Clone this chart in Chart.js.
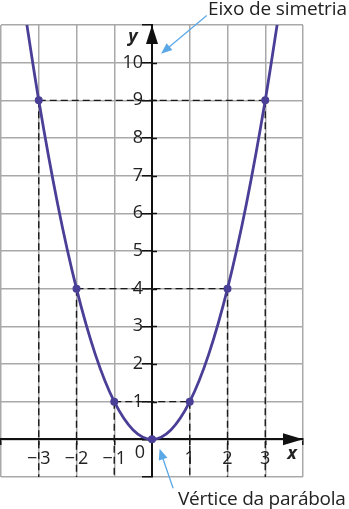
<!DOCTYPE html>
<html>
<head>
<meta charset="utf-8">
<script src="https://cdn.jsdelivr.net/npm/chart.js@4.4.1/dist/chart.umd.min.js"></script>
<style>
  html, body { margin: 0; padding: 0; background: #fff; overflow: hidden; }
  #wrap { width: 352px; height: 509px; position: absolute; left: -3px; top: 0; }
</style>
</head>
<body>
<div id="wrap"><canvas id="grafico"></canvas></div>
<script>
// parabola y = x^2
const curveX = [-3.4, -3, -2.5, -2, -1.5, -1, -0.5, 0, 0.5, 1, 1.5, 2, 2.5, 3, 3.4];
const curveY = [11.56, 9, 6.25, 4, 2.25, 1, 0.25, 0, 0.25, 1, 2.25, 4, 6.25, 9, 11.56];

// marked points
const markX = [-3, -2, -1, 0, 1, 2, 3];
const markY = [9, 4, 1, 0, 1, 4, 9];

// tick labels
const xTickValues = [-3, -2, -1, 1, 2, 3];
const xTickLabels = ['\u2212\u20093', '\u2212\u20092', '\u2212\u20091', '1', '2', '3'];
const yTickValues = [1, 2, 3, 4, 5, 6, 7, 8, 9, 10];
const yTickLabels = ['1', '2', '3', '4', '5', '6', '7', '8', '9', '10'];

const PURPLE = '#4a3f96';
const BLUE = '#5ba8e6';
const FONT = '"Open Sans", "Noto Sans", sans-serif';

// dashed guides from each marked point to the axes
const guides = [];
markX.forEach((mx, i) => {
    const my = markY[i];
    if (mx === 0) return;
    guides.push([{ x: mx, y: my }, { x: mx, y: -1 }]);
    if (mx > 0) guides.push([{ x: -mx, y: my }, { x: mx, y: my }]);
});

const guideSets = guides.map(g => ({
    type: 'line',
    data: g,
    borderColor: '#1a1a1a',
    borderWidth: 1.4,
    borderDash: [7, 4],
    pointRadius: 0,
    order: 3
}));

function arrow(ctx, x1, y1, x2, y2, len, half) {
    const a = Math.atan2(y2 - y1, x2 - x1);
    ctx.beginPath();
    ctx.moveTo(x1, y1);
    ctx.lineTo(x2 - Math.cos(a) * len * 0.6, y2 - Math.sin(a) * len * 0.6);
    ctx.stroke();
    ctx.beginPath();
    ctx.moveTo(x2, y2);
    ctx.lineTo(x2 - Math.cos(a) * len + Math.sin(a) * half, y2 - Math.sin(a) * len - Math.cos(a) * half);
    ctx.lineTo(x2 - Math.cos(a) * len - Math.sin(a) * half, y2 - Math.sin(a) * len + Math.cos(a) * half);
    ctx.closePath();
    ctx.fill();
}

// text squeezed or spread to a given width
function fitText(ctx, txt, xRight, y, width) {
    ctx.letterSpacing = '0px';
    const w = ctx.measureText(txt).width;
    ctx.letterSpacing = ((width - w) / (txt.length - 1)).toFixed(2) + 'px';
    ctx.textAlign = 'left';
    ctx.fillText(txt, xRight - width, y);
    ctx.letterSpacing = '0px';
}

const extras = {
    id: 'extras',
    afterDraw(chart) {
        const { ctx, chartArea } = chart;
        const sx = chart.scales.x, sy = chart.scales.y;
        const x0 = sx.getPixelForValue(0);
        const y0 = sy.getPixelForValue(0);
        ctx.save();

        // short tick stubs on the other side of the y axis
        ctx.strokeStyle = '#111';
        ctx.lineWidth = 1.5;
        yTickValues.forEach(v => {
            const py = Math.round(sy.getPixelForValue(v)) + 0.5;
            ctx.beginPath(); ctx.moveTo(x0, py); ctx.lineTo(x0 + 5, py); ctx.stroke();
        });

        // axis arrow heads
        ctx.fillStyle = '#111';
        ctx.beginPath();
        ctx.moveTo(x0, chartArea.top);
        ctx.lineTo(x0 - 6, chartArea.top + 19);
        ctx.lineTo(x0 + 6, chartArea.top + 19);
        ctx.closePath();
        ctx.fill();
        ctx.beginPath();
        ctx.moveTo(chartArea.right, y0);
        ctx.lineTo(chartArea.right - 20, y0 - 6);
        ctx.lineTo(chartArea.right - 20, y0 + 6);
        ctx.closePath();
        ctx.fill();

        // axis names and origin
        ctx.fillStyle = '#222';
        ctx.textAlign = 'center';
        ctx.textBaseline = 'middle';
        ctx.font = 'italic bold 18px ' + FONT;
        ctx.fillText('y', x0 - 19, chartArea.top + 12);
        ctx.fillText('x', chartArea.right - 11, y0 + 15);
        ctx.font = '18px ' + FONT;
        ctx.fillText('0', x0 - 12, y0 + 14);

        // callouts (canvas is shifted 3px left in the page)
        ctx.textBaseline = 'alphabetic';
        ctx.font = '19px ' + FONT;
        fitText(ctx, 'Eixo de simetria', 350, 15, 139);
        fitText(ctx, 'V\u00e9rtice da par\u00e1bola', 349, 505, 168);

        ctx.strokeStyle = BLUE;
        ctx.fillStyle = BLUE;
        ctx.lineWidth = 1.3;
        arrow(ctx, sx.getPixelForValue(1.45), sy.getPixelForValue(11.25),
            sx.getPixelForValue(0.24), sy.getPixelForValue(10.24), 11, 4.5);
        arrow(ctx, sx.getPixelForValue(0.56), sy.getPixelForValue(-1.3),
            sx.getPixelForValue(0.2), sy.getPixelForValue(-0.25), 11, 4.5);
        ctx.restore();
    }
};

const ctx = document.getElementById('grafico').getContext('2d');

new Chart(ctx, {
    type: 'line',
    data: {
        datasets: [
            {
                data: markX.map((v, i) => ({ x: v, y: markY[i] })),
                showLine: false,
                pointRadius: 4,
                pointBackgroundColor: PURPLE,
                pointBorderWidth: 0,
                order: 1
            },
            {
                data: curveX.map((v, i) => ({ x: v, y: curveY[i] })),
                borderColor: PURPLE,
                borderWidth: 2.8,
                cubicInterpolationMode: 'monotone',
                pointRadius: 0,
                order: 2
            },
            ...guideSets
        ]
    },
    options: {
        responsive: true,
        maintainAspectRatio: false,
        animation: false,
        layout: { padding: { left: 1, top: 25, right: 46, bottom: 32 } },
        plugins: { legend: { display: false }, tooltip: { enabled: false } },
        scales: {
            x: {
                type: 'linear',
                min: -4,
                max: 4,
                position: { y: 0 },
                afterFit: s => { s.height = 0; s.paddingLeft = 0; s.paddingRight = 0; },
                grid: { color: '#a9a9a9', lineWidth: 1.5, tickLength: 5, tickColor: '#111' },
                border: { display: true, color: '#111', width: 2 },
                ticks: {
                    stepSize: 1,
                    autoSkip: false,
                    maxRotation: 0,
                    padding: 4,
                    color: '#222',
                    font: { family: FONT, size: 18 },
                    callback: v => {
                        const i = xTickValues.indexOf(v);
                        return i < 0 ? '' : xTickLabels[i];
                    }
                }
            },
            y: {
                type: 'linear',
                min: -1,
                max: 11,
                position: { x: 0 },
                afterFit: s => { s.width = 0; s.paddingTop = 0; s.paddingBottom = 0; },
                grid: { color: '#a9a9a9', lineWidth: 1.5, tickLength: 9, tickColor: '#111' },
                border: { display: true, color: '#111', width: 2 },
                ticks: {
                    stepSize: 1,
                    autoSkip: false,
                    padding: 4,
                    color: '#222',
                    font: { family: FONT, size: 18 },
                    // the label sits on the axis line, so push it left with an en space
                    callback: v => {
                        const i = yTickValues.indexOf(v);
                        return i < 0 ? '' : yTickLabels[i] + '\u2002';
                    }
                }
            }
        }
    },
    plugins: [extras]
});
</script>
</body>
</html>
